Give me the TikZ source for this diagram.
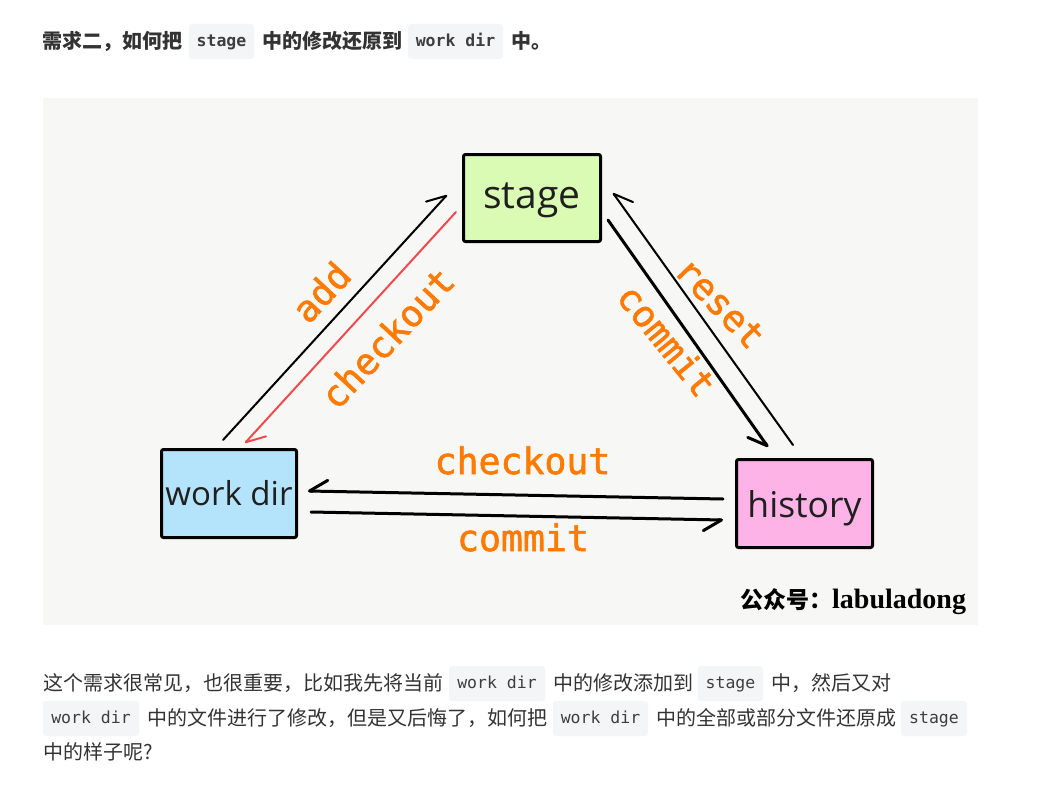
\documentclass[tikz,border=0pt]{standalone}
\usepackage{fontspec}
\newfontfamily\cjk{Noto Sans CJK SC}
\newfontfamily\codefont{DejaVu Sans Mono}
\newfontfamily\boxfont{Open Sans}
\newfontfamily\labfont{DejaVu Sans Mono}[FakeBold=1.6]
\newfontfamily\serifb{Liberation Serif}
\usetikzlibrary{arrows.meta,calc}
\definecolor{bgc}{HTML}{F7F7F5}
\definecolor{stagec}{HTML}{DAFBB4}
\definecolor{wdc}{HTML}{B4E4FB}
\definecolor{histc}{HTML}{FDB3E6}
\definecolor{labc}{HTML}{FF7A00}
\definecolor{redc}{HTML}{F04A4F}
\definecolor{codebg}{HTML}{F4F5F7}
\definecolor{txtc}{HTML}{333333}
\definecolor{codetxt}{HTML}{3E3E3E}
\tikzset{
  gbox/.style={draw=black, line width=3pt, rounded corners=2pt, inner sep=0pt,
    text=black!88, text depth=0pt},
  codebox/.style={fill=codebg, rounded corners=3pt, inner sep=0pt, minimum height=35pt,
    text height=13.5pt, text depth=3.5pt,
    font=\codefont\fontsize{16.5pt}{20pt}\selectfont, text=codetxt},
  cn/.style={anchor=base west, inner sep=0pt, font=\cjk\fontsize{20pt}{24pt}\selectfont, text=txtc},
  cnb/.style={cn, font=\cjk\bfseries\fontsize{20pt}{24pt}\selectfont},
  codeb/.style={codebox, font=\codefont\bfseries\fontsize{16.5pt}{20pt}\selectfont},
  lbl/.style={text=labc, inner sep=0pt, font=\labfont\fontsize{36.5pt}{40pt}\selectfont},
  conn/.style={line width=2pt, line cap=round},
  tipL/.style={-{Straight Barb[harpoon,round,length=18pt,width=22pt]}},
  tipR/.style={-{Straight Barb[harpoon,swap,round,length=18pt,width=22pt]}}
}
\begin{document}
\begin{tikzpicture}[x=1pt,y=-1pt]
\fill[white] (0,0) rectangle (1043,792);
\path[use as bounding box] (0,0) rectangle (1043,792);
% title
\node[cnb] (t1) at (42,48.5) {需求二，如何把};
\node[codeb, minimum width=65pt] (tc1) at (221.5,41.5) {stage};
\node[cnb] (t2) at (262,48.5) {中的修改还原到};
\node[codeb, minimum width=95pt] (tc2) at (455.5,41.5) {work dir};
\node[cnb] (t3) at (511,48.5) {中。};
% diagram background
\fill[bgc] (43,98) rectangle (978,625);
% boxes
\node[gbox, fill=stagec, minimum width=137pt, minimum height=87pt, text height=20pt,
  font=\boxfont\fontsize{39pt}{44pt}\selectfont] (stage) at (532,198) {stage};
\node[gbox, fill=wdc, minimum width=135pt, minimum height=88pt, text height=23pt,
  font=\boxfont\fontsize{33pt}{38pt}\selectfont] (wd) at (229,493.5) {work dir};
\node[gbox, fill=histc, minimum width=136pt, minimum height=88pt, text height=27pt,
  font=\boxfont\fontsize{35.5pt}{40pt}\selectfont] (hist) at (804.5,503.5) {history};
% connectors
\draw[conn, tipL] ($(wd.north)+(-6,-8)$) -- ($(stage.west)+(-15,-3)$);
\draw[conn, redc, tipL] ($(stage.west)+(-6,14)$) -- ($(wd.north)+(16,-5)$);
\draw[conn, tipR] ($(hist.north)+(-11.5,-13)$) -- ($(stage.east)+(11,-5)$);
\draw[conn, line width=3pt, tipR] ($(stage.east)+(6,22)$) -- ($(hist.north)+(-36.5,-11)$);
\draw[conn, line width=3pt, tipR] ($(hist.west)+(-12,-4.5)$) -- ($(wd.east)+(10,-2.5)$);
\draw[conn, line width=3pt, tipR] ($(wd.east)+(13,18.5)$) -- ($(hist.west)+(-12,16.5)$);
% labels
\node[lbl, rotate=47] (ladd) at (321,292) {add};
\node[lbl, rotate=47] (lco1) at (387,338) {checkout};
\node[lbl, rotate=-46] (lreset) at (720,303) {reset};
\node[lbl, rotate=-51] (lcom1) at (667,340) {commit};
\node[lbl, anchor=base] (lco2) at (522.5,474) {checkout};
\node[lbl, anchor=base] (lcom2) at (523,551) {commit};
% watermark
\node[anchor=base west, inner sep=0pt] (wm) at (740,608) {{\cjk\bfseries\fontsize{23pt}{26pt}\selectfont 公众号：}{\serifb\bfseries\fontsize{28pt}{30pt}\selectfont labuladong}};
% paragraph line 1
\node[cn] (p1a) at (43,690) {这个需求很常见，也很重要，比如我先将当前};
\node[codebox, minimum width=96pt] (pc1) at (497,683.5) {work dir};
\node[cn] (p1b) at (553,690) {中的修改添加到};
\node[codebox, minimum width=65pt] (pc2) at (730.5,683.5) {stage};
\node[cn] (p1c) at (771,690) {中，然后又对};
% line 2
\node[codebox, minimum width=96pt] (pc3) at (91,718.5) {work dir};
\node[cn] (p2a) at (147,725) {中的文件进行了修改，但是又后悔了，如何把};
\node[codebox, minimum width=95pt] (pc4) at (600.5,718.5) {work dir};
\node[cn] (p2b) at (656,725) {中的全部或部分文件还原成};
\node[codebox, minimum width=66pt] (pc5) at (934,718.5) {stage};
% line 3
\node[cn] (p3) at (43,759.5) {中的样子呢?};
\end{tikzpicture}
\end{document}
